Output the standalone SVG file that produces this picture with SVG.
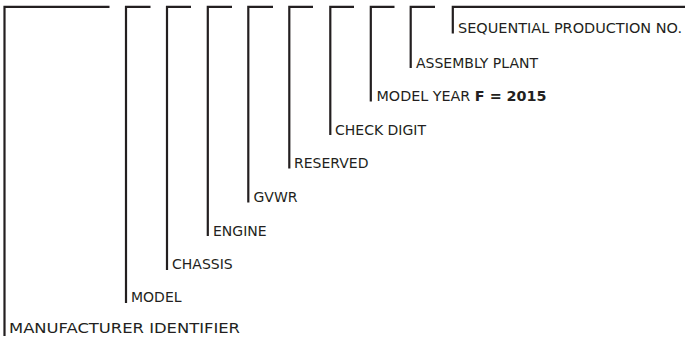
<svg xmlns="http://www.w3.org/2000/svg" width="685" height="337" viewBox="0 0 685 337">
<style>
.bk{fill:none;stroke:#231f20;stroke-width:2.2;stroke-linecap:butt;stroke-linejoin:miter}
.lb{font-family:"DejaVu Sans","Liberation Sans",sans-serif;font-size:14px;fill:#231f20}
.b{font-weight:bold}
</style>
<rect width="685" height="337" fill="#ffffff"/>
<g id="connectors">
<path class="bk" d="M109.5,6.8 H4.5 V336"/>
<path class="bk" d="M150.5,6.8 H126 V303"/>
<path class="bk" d="M191,6.8 H167 V270"/>
<path class="bk" d="M232,6.8 H207.8 V236"/>
<path class="bk" d="M273,6.8 H248.3 V202.5"/>
<path class="bk" d="M313,6.8 H289.3 V168.5"/>
<path class="bk" d="M354,6.8 H330.3 V135"/>
<path class="bk" d="M394.5,6.8 H370.8 V101.5"/>
<path class="bk" d="M435,6.8 H410.7 V68"/>
<path class="bk" d="M685,6.8 H452.8 V33.5"/>
</g>
<g id="manufacturer"><text class="lb" x="9" y="332.5" style="font-size:14.5px" textLength="231" lengthAdjust="spacingAndGlyphs">MANUFACTURER IDENTIFIER</text></g>
<g id="model"><text class="lb" x="131" y="302">MODEL</text></g>
<g id="chassis"><text class="lb" x="172" y="269">CHASSIS</text></g>
<g id="engine"><text class="lb" x="213" y="236">ENGINE</text></g>
<g id="gvwr"><text class="lb" x="253.5" y="202">GVWR</text></g>
<g id="reserved"><text class="lb" x="294" y="168">RESERVED</text></g>
<g id="check-digit"><text class="lb" x="335" y="135">CHECK DIGIT</text></g>
<g id="model-year"><text class="lb" x="376.5" y="101" textLength="170" lengthAdjust="spacingAndGlyphs">MODEL YEAR <tspan class="b">F = 2015</tspan></text></g>
<g id="assembly-plant"><text class="lb" x="416" y="67.7">ASSEMBLY PLANT</text></g>
<g id="sequential"><text class="lb" x="458" y="33.3" textLength="224" lengthAdjust="spacingAndGlyphs">SEQUENTIAL PRODUCTION NO.</text></g>
</svg>
